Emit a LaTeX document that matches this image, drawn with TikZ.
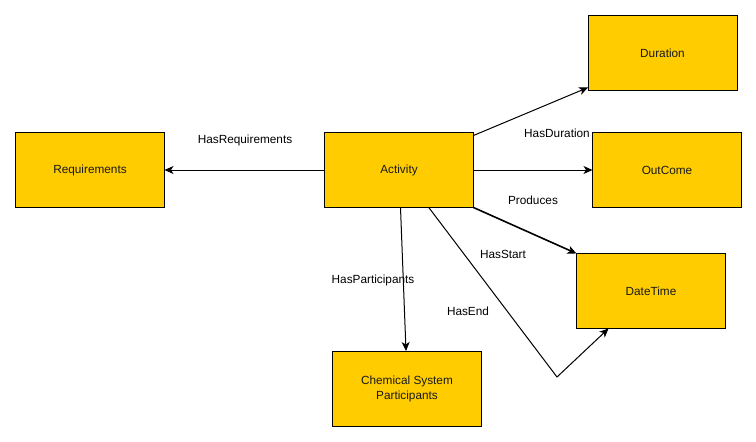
\documentclass[tikz,border=0pt]{standalone}
\usepackage{fontspec}
\setmainfont{Liberation Sans}
\usetikzlibrary{arrows.meta,calc}
\definecolor{boxfill}{HTML}{FFCC00}
\tikzset{
  entity/.style={draw=black, fill=boxfill, line width=1pt, minimum width=149pt, minimum height=75pt,
    inner sep=0pt, outer sep=0pt, align=center, font=\fontsize{11.8}{15}\selectfont, text=black!90},
  rel/.style={draw=black, line width=1pt, -{Stealth[length=9pt,width=8pt,inset=2.5pt]}},
  boldrel/.style={rel, line width=1.6pt},
  lbl/.style={font=\fontsize{11.8}{14}\selectfont, inner sep=0pt}
}
\begin{document}
\begin{tikzpicture}[x=1pt,y=-1pt]
\useasboundingbox (0,0) rectangle (756,442);
\fill[white] (0,0) rectangle (756,442);
\node[entity] (req) at (90,170) {Requirements};
\node[entity] (act) at (399,170) {Activity};
\node[entity] (dur) at (662.5,53) {Duration};
\node[entity] (out) at (667,170) {OutCome};
\node[entity] (dt) at (651,291) {DateTime};
\node[entity] (chem) at (407,388.5) {Chemical System\\Participants};
\coordinate (bend) at (557,377);

\draw[rel] (act.west) -- (req.east);
\draw[rel] ($(act.north east)+(0,3)$) -- ($(dur.south west)+(0,-3)$);
\draw[rel] (act.east) -- (out.west);
\draw[boldrel] (act.south east) -- (dt.north west);
\draw[rel] ($(act.south)+(1.5,0)$) -- ($(chem.north)+(-1,0)$);
\draw[rel] ($(act.south west)!0.7!(act.south east)$) -- (bend) -- ($(dt.south west)!0.215!(dt.south east)$);

\node[lbl] (lreq) at (245,140) {HasRequirements};
\node[lbl] (ldur) at (557,133) {HasDuration};
\node[lbl] (lprod) at (533,200) {Produces};
\node[lbl] (lstart) at (503,254) {HasStart};
\node[lbl] (lpart) at (373,280) {HasParticipants};
\node[lbl] (lend) at (468,311) {HasEnd};
\end{tikzpicture}
\end{document}
